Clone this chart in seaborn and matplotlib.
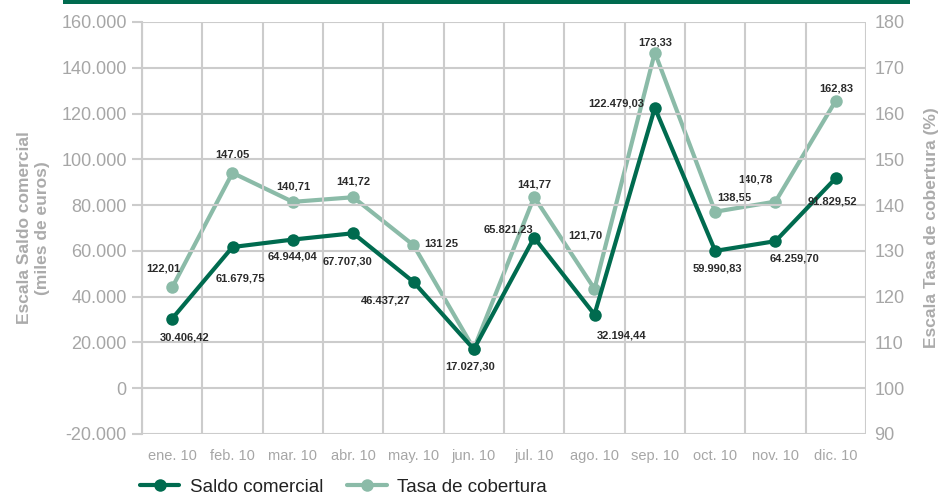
import matplotlib
matplotlib.use("Agg")
import matplotlib.pyplot as plt
from matplotlib.lines import Line2D
import seaborn as sns
import pandas as pd
import numpy as np

# Monthly data, 2010
meses = ["ene. 10", "feb. 10", "mar. 10", "abr. 10", "may. 10", "jun. 10",
         "jul. 10", "ago. 10", "sep. 10", "oct. 10", "nov. 10", "dic. 10"]
saldo = [30406.42, 61679.75, 64944.04, 67707.30, 46437.27, 17027.30,
         65821.23, 32194.44, 122479.03, 59990.83, 64259.70, 91829.52]
tasa = [122.01, 147.05, 140.71, 141.72, 131.25, 108.60,
        141.77, 121.70, 173.33, 138.55, 140.78, 162.83]
saldo_labels = ["30.406,42", "61.679,75", "64.944,04", "67.707,30", "46.437,27",
                "17.027,30", "65.821,23", "32.194,44", "122.479,03", "59.990,83",
                "64.259,70", "91.829,52"]
tasa_labels = ["122,01", "147,05", "140,71", "141,72", "131,25", None,
               "141,77", "121,70", "173,33", "138,55", "140,78", "162,83"]

left_ticks = [-20000, 0, 20000, 40000, 60000, 80000, 100000, 120000, 140000, 160000]
left_tick_labels = ["-20.000", "0", "20.000", "40.000", "60.000", "80.000",
                    "100.000", "120.000", "140.000", "160.000"]
right_ticks = [90, 100, 110, 120, 130, 140, 150, 160, 170, 180]

DARK = "#006b4f"
LIGHT = "#8bbba8"
GRID = "#cccccc"
TICK = "#a6a6a6"
LABEL = "#2b2b2b"

sns.set_theme(style="white")
plt.rcParams["font.family"] = ["Liberation Sans", "DejaVu Sans"]

df = pd.DataFrame({"x": np.arange(len(meses)), "saldo": saldo, "tasa": tasa})

fig = plt.figure(figsize=(9.42, 4.95), dpi=100)
ax = fig.add_axes([142 / 942, 1 - 434 / 495, (866 - 142) / 942, (434 - 22) / 495])
ax2 = ax.twinx()

# Light series on the right axis (behind), dark series on the left axis
sns.lineplot(data=df, x="x", y="tasa", ax=ax2, color=LIGHT, lw=3,
             marker="o", markersize=9, markeredgewidth=0, zorder=3, legend=False)
sns.lineplot(data=df, x="x", y="saldo", ax=ax, color=DARK, lw=3,
             marker="o", markersize=9, markeredgewidth=0, zorder=3, legend=False)
ax.set_zorder(ax2.get_zorder() + 1)
ax.patch.set_visible(False)

ax.set_xlim(-0.5, 11.5)
ax.set_ylim(-20000, 160000)
ax2.set_ylim(90, 180)

# Grid: vertical lines between months, horizontal lines on the value ticks
ax.set_xticks(np.arange(len(meses)))
ax.set_xticklabels(meses, fontsize=10.5, color=TICK)
ax.set_xticks(np.arange(-0.5, 12, 1), minor=True)
ax.tick_params(axis="x", which="major", length=0, pad=11)
ax.tick_params(axis="x", which="minor", length=7, width=1.5, color=GRID)
ax.grid(True, axis="x", which="minor", color=GRID, lw=1.5)
ax.grid(False, axis="x", which="major")

ax.set_yticks(left_ticks)
ax.set_yticklabels(left_tick_labels, fontsize=13, color=TICK)
ax.tick_params(axis="y", which="major", length=7, width=1.5, color=GRID, pad=4,
               left=True)
ax.grid(True, axis="y", color=GRID, lw=1.5)
ax2.set_yticks(right_ticks)
ax2.set_yticklabels([str(t) for t in right_ticks], fontsize=13, color=TICK)
ax2.tick_params(axis="y", length=0, pad=6)
ax2.grid(False)

for a in (ax, ax2):
    for side in ("top", "bottom", "left", "right"):
        a.spines[side].set_visible(False)
ax.spines["left"].set_visible(True)
ax.spines["left"].set_color(GRID)
ax.spines["left"].set_linewidth(1.5)

ax.set_xlabel("")
ax.set_ylabel("Escala Saldo comercial\n(miles de euros)", fontsize=12.5,
              fontweight="bold", color="#ababab", labelpad=8, linespacing=1.25)
ax2.set_ylabel("Escala Tasa de cobertura (%)", fontsize=12.5,
               fontweight="bold", color="#ababab", labelpad=14)

# Value labels (offsets in pixels from each point)
saldo_off = [(12, -19), (8, -31), (0, -17), (-6, -28), (-28, -19), (-4, -17),
             (-26, 8), (27, -21), (-39, 4), (2, -18), (19, -17), (-3, -23)]
tasa_off = [(-9, 19), (0, 18), (0, 15), (0, 16), (28, 2), None,
            (0, 13), (-9, 53), (0, 10), (19, 14), (-20, 22), (0, 12)]

for i, (v, lab) in enumerate(zip(saldo, saldo_labels)):
    ax.annotate(lab, (i, v), xytext=saldo_off[i], textcoords="offset pixels",
                ha="center", va="center", fontsize=8, fontweight="bold",
                color=LABEL, zorder=5)
for i, (v, lab) in enumerate(zip(tasa, tasa_labels)):
    if lab is None:
        continue
    ax2.annotate(lab, (i, v), xytext=tasa_off[i], textcoords="offset pixels",
                 ha="center", va="center", fontsize=8, fontweight="bold",
                 color=LABEL, zorder=5)

# Top rule
fig.add_artist(plt.Rectangle((63 / 942, 1 - 4 / 495), (910 - 63) / 942, 4 / 495,
                             transform=fig.transFigure, color=DARK, lw=0))

handles = [Line2D([], [], color=DARK, lw=3, marker="o", markersize=9,
                  markeredgewidth=0),
           Line2D([], [], color=LIGHT, lw=3, marker="o", markersize=9,
                  markeredgewidth=0)]
fig.legend(handles, ["Saldo comercial", "Tasa de cobertura"], loc="center left",
           bbox_to_anchor=(140 / 942, 1 - 487 / 495), ncol=2, frameon=False,
           fontsize=13.5, handlelength=2.1, handletextpad=0.55, columnspacing=1.3,
           labelcolor="#222222", borderaxespad=0, borderpad=0)

fig.savefig("out.png", dpi=100)
